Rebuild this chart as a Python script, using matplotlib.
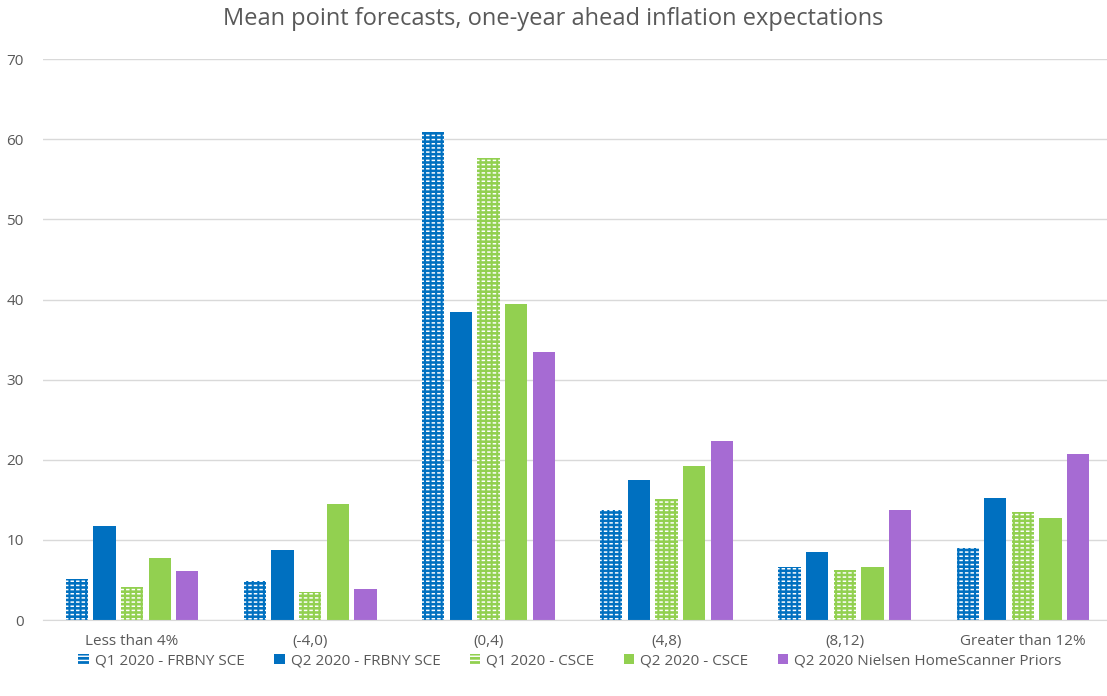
import matplotlib
matplotlib.use("Agg")
import matplotlib.pyplot as plt
import numpy as np

# categories and series
categories = ["Less than 4%", "(-4,0)", "(0,4)", "(4,8)", "(8,12)", "Greater than 12%"]
q1_frbny = [5.1, 4.9, 60.9, 13.7, 6.6, 9.0]
q2_frbny = [11.7, 8.8, 38.4, 17.5, 8.5, 15.2]
q1_csce = [4.1, 3.5, 57.7, 15.1, 6.3, 13.5]
q2_csce = [7.8, 14.5, 39.4, 19.2, 6.6, 12.7]
nielsen = [6.1, 3.9, 33.4, 22.4, 13.7, 20.7]

series_names = ["Q1 2020 - FRBNY SCE", "Q2 2020 - FRBNY SCE", "Q1 2020 - CSCE",
                "Q2 2020 - CSCE", "Q2 2020 Nielsen HomeScanner Priors"]
series = [q1_frbny, q2_frbny, q1_csce, q2_csce, nielsen]
colors = ["#0070C0", "#0070C0", "#92D050", "#92D050", "#A66BD3"]
patterned = [True, False, True, False, False]

plt.rcParams["font.family"] = ["Open Sans", "DejaVu Sans"]

fig = plt.figure(figsize=(11.07, 6.96), dpi=100)
ax = fig.add_axes([43 / 1107, 0.109, 1069 / 1107, 0.806])

x = np.arange(len(categories))
width = 0.125
step = 0.155
for i, (vals, c, p, name) in enumerate(zip(series, colors, patterned, series_names)):
    pos = x + (i - 2) * step
    if p:
        # white dashes on the colour: horizontal white hatch broken by vertical coloured hatch
        with plt.rc_context({"hatch.linewidth": 1.1}):
            ax.bar(pos, vals, width, color=c, edgecolor="white", hatch="----",
                   linewidth=0, label=name)
        with plt.rc_context({"hatch.linewidth": 1.5}):
            ax.bar(pos, vals, width, facecolor="none", edgecolor=c, hatch="|||",
                   linewidth=0)
    else:
        ax.bar(pos, vals, width, color=c, linewidth=0, label=name)

ax.set_xlim(-0.5, len(categories) - 0.5)
ax.set_ylim(0, 70)
ax.set_yticks(range(0, 71, 10))
ax.set_xticks(x)
ax.set_xticklabels(categories)
ax.yaxis.grid(True, color="#D9D9D9", linewidth=1)
ax.set_axisbelow(True)
for s in ["top", "right", "left"]:
    ax.spines[s].set_visible(False)
ax.spines["bottom"].set_color("#D9D9D9")
ax.tick_params(axis="both", length=0, colors="#595959", labelsize=11)
ax.tick_params(axis="x", pad=10)
ax.tick_params(axis="y", pad=14)

fig.suptitle("Mean point forecasts, one-year ahead inflation expectations",
             fontsize=17, color="#595959", y=0.99)

fig.legend(loc="lower center", ncol=5, frameon=False, fontsize=11,
           bbox_to_anchor=(0.515, 0.02), handlelength=0.7, handleheight=0.7,
           columnspacing=1.9, handletextpad=0.4, labelcolor="#595959")

fig.savefig("out.png", dpi=100)
